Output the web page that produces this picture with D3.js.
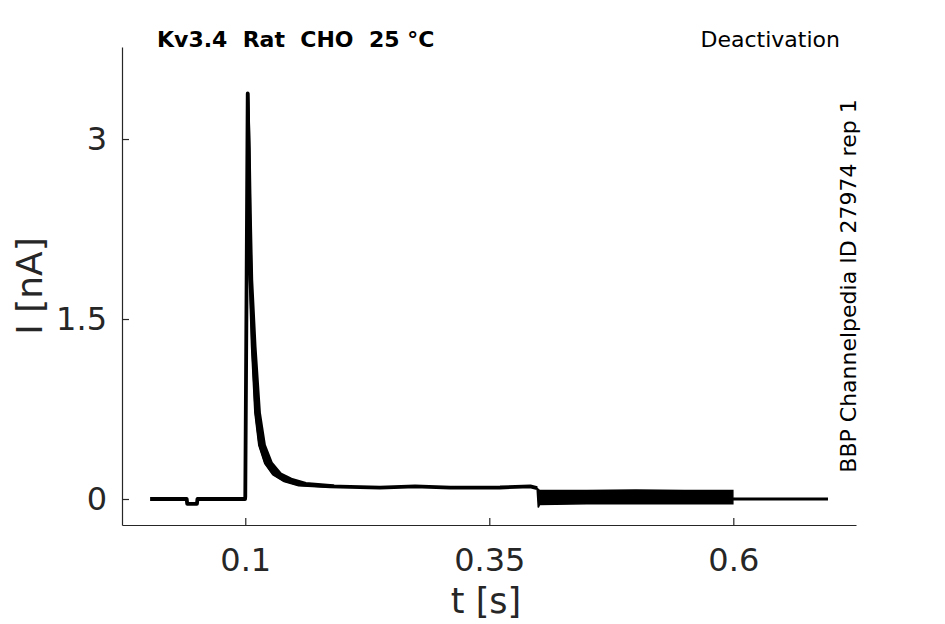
<!DOCTYPE html>
<html>
<head>
<meta charset="utf-8">
<script src="https://cdn.jsdelivr.net/npm/d3@7"></script>
<style>
  body { margin: 0; background: #fff; }
  text { font-family: "DejaVu Sans", sans-serif; }
</style>
</head>
<body>
<div id="figure"></div>
<script>
var traceT = [0.0025, 0.040, 0.0405, 0.0505, 0.051, 0.0998, 0.1000, 0.1012, 0.1025,
    0.1033, 0.1042, 0.1054, 0.1076, 0.1110, 0.1150, 0.1210, 0.1290, 0.140, 0.155,
    0.187, 0.238, 0.274, 0.310, 0.361, 0.392, 0.3990];
var traceI = [0, 0, -0.04, -0.04, 0, 0, 0.02, 1.6, 3.38,
    2.93, 2.38, 1.825, 1.27, 0.72, 0.45, 0.30, 0.21, 0.155, 0.12,
    0.105, 0.095, 0.105, 0.095, 0.096, 0.105, 0.09];

// slowest sweep of the decay (outer edge of the thick band after the peak)
var sweep2T = [0.1025, 0.1040, 0.1051, 0.1066, 0.1100, 0.1145, 0.1196, 0.1268, 0.136, 0.147, 0.162, 0.190];
var sweep2I = [3.38, 2.93, 2.38, 1.825, 1.27, 0.72, 0.45, 0.30, 0.21, 0.165, 0.13, 0.11];

// noisy segment between 0.4 and 0.6 s (envelope of the sweeps)
var noiseT = [0.3990, 0.4002, 0.4015, 0.45, 0.50, 0.55, 0.5995];
var noiseHi = [0.09, 0.08, 0.07, 0.07, 0.075, 0.07, 0.07];
var noiseLo = [0.09, -0.07, -0.045, -0.04, -0.04, -0.04, -0.04];

// tail after 0.6 s
var tailT = [0.5995, 0.600, 0.697];
var tailI = [0.01, 0, 0];

var xTicks = [0.1, 0.35, 0.6];
var xTickLabels = ["0.1", "0.35", "0.6"];
var yTicks = [0, 1.5, 3];
var yTickLabels = ["0", "1.5", "3"];

var w = 945;
var h = 624;
var plotL = 122, plotR = 856, plotT = 47, plotB = 525;
var axisColor = "#262626";

var svg = d3.select("#figure")
    .append("svg")
    .attr("width", w)
    .attr("height", h);

var xScale = d3.scaleLinear()
    .domain([-0.0263, 0.7257])
    .range([plotL, plotR]);

var yScale = d3.scaleLinear()
    .domain([-0.2167, 3.767])
    .range([plotB, plotT]);

function zip(ts, vs) {
    return ts.map(function(t, i) { return { t: t, v: vs[i] }; });
}

var line = d3.line()
    .x(function(d) { return xScale(d.t); })
    .y(function(d) { return yScale(d.v); });

// noise band
var band = noiseT.map(function(t, i) { return { t: t, lo: noiseLo[i], hi: noiseHi[i] }; });
svg.append("path")
    .datum(band)
    .attr("fill", "#000")
    .attr("stroke", "#000")
    .attr("stroke-width", 1.5)
    .attr("d", d3.area()
        .x(function(d) { return xScale(d.t); })
        .y0(function(d) { return yScale(d.lo); })
        .y1(function(d) { return yScale(d.hi); }));

svg.append("path")
    .datum(zip(tailT, tailI))
    .attr("fill", "none")
    .attr("stroke", "#000")
    .attr("stroke-width", 2.8)
    .attr("d", line);

// decay band: fastest sweep (main trace) out, slowest sweep back
var fast = zip(traceT, traceI).filter(function(d) { return d.t >= 0.1025 && d.t <= 0.190; });
var slow = zip(sweep2T, sweep2I).reverse();
svg.append("path")
    .datum(fast.concat(slow))
    .attr("fill", "#000")
    .attr("stroke", "#000")
    .attr("stroke-width", 3)
    .attr("stroke-linejoin", "round")
    .attr("d", line.curve(d3.curveLinearClosed));

line.curve(d3.curveLinear);

svg.append("path")
    .datum(zip(traceT, traceI))
    .attr("fill", "none")
    .attr("stroke", "#000")
    .attr("stroke-width", 3.8)
    .attr("stroke-linejoin", "round")
    .attr("d", line);

// axes
var xAxis = d3.axisBottom(xScale)
    .tickValues(xTicks)
    .tickFormat(function(d, i) { return xTickLabels[i]; })
    .tickSizeInner(-7)
    .tickSizeOuter(0)
    .tickPadding(23);

var gx = svg.append("g")
    .attr("transform", "translate(0," + plotB + ")")
    .call(xAxis);

var yAxis = d3.axisLeft(yScale)
    .tickValues(yTicks)
    .tickFormat(function(d, i) { return yTickLabels[i]; })
    .tickSizeInner(-7)
    .tickSizeOuter(0)
    .tickPadding(15);

var gy = svg.append("g")
    .attr("transform", "translate(" + plotL + ",0)")
    .call(yAxis);

[gx, gy].forEach(function(g) {
    g.select(".domain").attr("stroke", axisColor).attr("stroke-width", 1.2);
    g.selectAll(".tick line").attr("stroke", axisColor).attr("stroke-width", 1.2);
    g.selectAll(".tick text")
        .attr("fill", axisColor)
        .style("font-family", "DejaVu Sans")
        .style("font-size", "32px");
});

// axis labels
svg.append("text")
    .attr("x", 486)
    .attr("y", 613)
    .attr("text-anchor", "middle")
    .attr("fill", axisColor)
    .style("font-size", "35px")
    .text("t [s]");

svg.append("text")
    .attr("transform", "translate(42,286) rotate(-90)")
    .attr("text-anchor", "middle")
    .attr("fill", axisColor)
    .style("font-size", "36px")
    .text("I [nA]");

// titles
svg.append("text")
    .attr("x", 157)
    .attr("y", 47)
    .attr("font-weight", "bold")
    .style("font-size", "22px")
    .style("white-space", "pre")
    .attr("fill", "#000")
    .text("Kv3.4  Rat  CHO  25 \u00B0C");

svg.append("text")
    .attr("x", 840)
    .attr("y", 47)
    .attr("text-anchor", "end")
    .style("font-size", "22px")
    .attr("fill", "#000")
    .text("Deactivation");

svg.append("text")
    .attr("transform", "translate(856,286) rotate(-90)")
    .attr("text-anchor", "middle")
    .style("font-size", "22px")
    .attr("fill", "#000")
    .text("BBP Channelpedia ID 27974 rep 1");
</script>
</body>
</html>
